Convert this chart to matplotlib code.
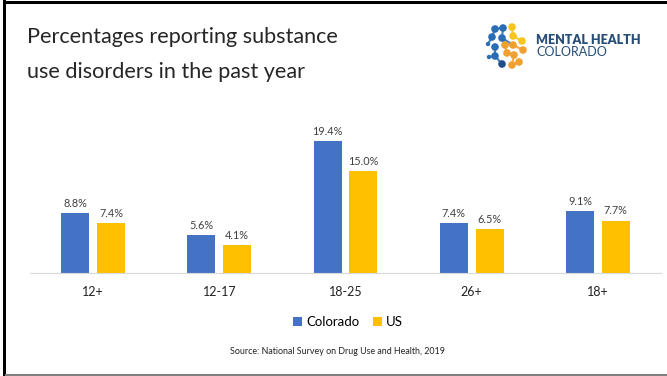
import matplotlib.pyplot as plt
import numpy as np

# survey values, percent
age_groups = ["12+", "12-17", "18-25", "26+", "18+"]
colorado = [8.8, 5.6, 19.4, 7.4, 9.1]
us = [7.4, 4.1, 15.0, 6.5, 7.7]

BLUE = "#4472C4"
GOLD = "#FFC000"
W, H = 667, 376

plt.rcParams['font.family'] = ['Lato', 'DejaVu Sans']

fig = plt.figure(figsize=(W / 100, H / 100), dpi=100)

# full-figure layer in pixel units for the slide frame, title and logo
deco = fig.add_axes([0, 0, 1, 1])
deco.set_xlim(0, W)
deco.set_ylim(H, 0)
deco.axis("off")

# slide frame
deco.fill_between([3, 6], 0, H, color="black", lw=0)
deco.fill_between([3, W], 1, 4, color="black", lw=0)
deco.plot([6, W], [374.5, 374.5], color="#7f7f7f", lw=1.5)

# title
deco.text(27, 37, "Percentages reporting substance", fontsize=15.6, color="#262626",
          va="center", ha="left")
deco.text(27, 72, "use disorders in the past year", fontsize=15.6, color="#262626",
          va="center", ha="left")

# logo
logo_blue = "#2a6db5"
logo_dark = "#1f4e8c"
logo_yel = "#f7c51e"
logo_org = "#f0a030"
dots = [
    (495, 29, logo_blue), (503, 28, logo_blue), (512, 27, logo_yel),
    (492, 37, logo_blue), (502, 38, logo_blue), (513, 36, logo_yel), (522, 41, logo_yel),
    (495, 47, logo_blue), (505, 45, logo_org), (513, 45, logo_org), (523, 50, logo_org),
    (495, 56, logo_blue), (507, 53, logo_org), (514, 55, logo_org),
    (502, 64, logo_dark), (512, 65, logo_org), (519, 62, logo_org),
    (488, 44, logo_blue), (489, 57, logo_blue),
]
links = [(0, 3), (1, 4), (2, 5), (5, 6), (4, 8), (8, 9), (9, 10), (7, 11), (8, 12),
         (12, 13), (11, 14), (13, 15), (15, 16), (4, 9), (3, 17), (11, 18), (0, 1)]
for a, b in links:
    xa, ya, ca = dots[a]
    xb, yb, _ = dots[b]
    deco.plot([xa, xb], [ya, yb], color=ca, lw=1.6, alpha=0.85)
deco.scatter([d[0] for d in dots], [d[1] for d in dots], s=[30] * 17 + [10, 10],
             c=[d[2] for d in dots], lw=0, zorder=3)
deco.text(536, 40, "MENTAL HEALTH", fontsize=9, fontweight="heavy", color="#264e78",
          va="center", ha="left")
deco.text(536, 52.5, "COLORADO", fontsize=9, color="#264e78", va="center", ha="left")

# grouped bars
ax = fig.add_axes([30 / W, 1 - 273 / H, 631 / W, 136 / H])
x = np.arange(len(age_groups))
bw = 0.222
off = 0.142
b1 = ax.bar(x - off, colorado, bw, color=BLUE, label="Colorado")
b2 = ax.bar(x + off, us, bw, color=GOLD, label="US")
for bars, vals in ((b1, colorado), (b2, us)):
    for rect, v in zip(bars, vals):
        ax.annotate(f"{v:.1f}%", (rect.get_x() + rect.get_width() / 2, v),
                    xytext=(0, 3), textcoords="offset points", ha="center", va="bottom",
                    fontsize=7.8, color="#404040")

ax.set_xlim(-0.5, len(age_groups) - 0.5)
ax.set_ylim(0, 20)
ax.set_xticks(x)
ax.set_xticklabels(age_groups, fontsize=9, color="#222222")
ax.tick_params(axis="x", length=0, pad=9)
ax.set_yticks([])
for s in ("top", "right", "left"):
    ax.spines[s].set_visible(False)
ax.spines["bottom"].set_color("#d9d9d9")
ax.patch.set_alpha(0)

fig.legend(handles=[b1, b2], loc="center", bbox_to_anchor=(348 / W, 1 - 322 / H), ncol=2,
           frameon=False, fontsize=9.5, handlelength=0.7, handleheight=0.7,
           handletextpad=0.3, columnspacing=1.0)

fig.text(337 / W, 1 - 352 / H, "Source: National Survey on Drug Use and Health, 2019",
         fontsize=6.4, color="#222222", ha="center", va="center")

fig.savefig("out.png", dpi=100)
